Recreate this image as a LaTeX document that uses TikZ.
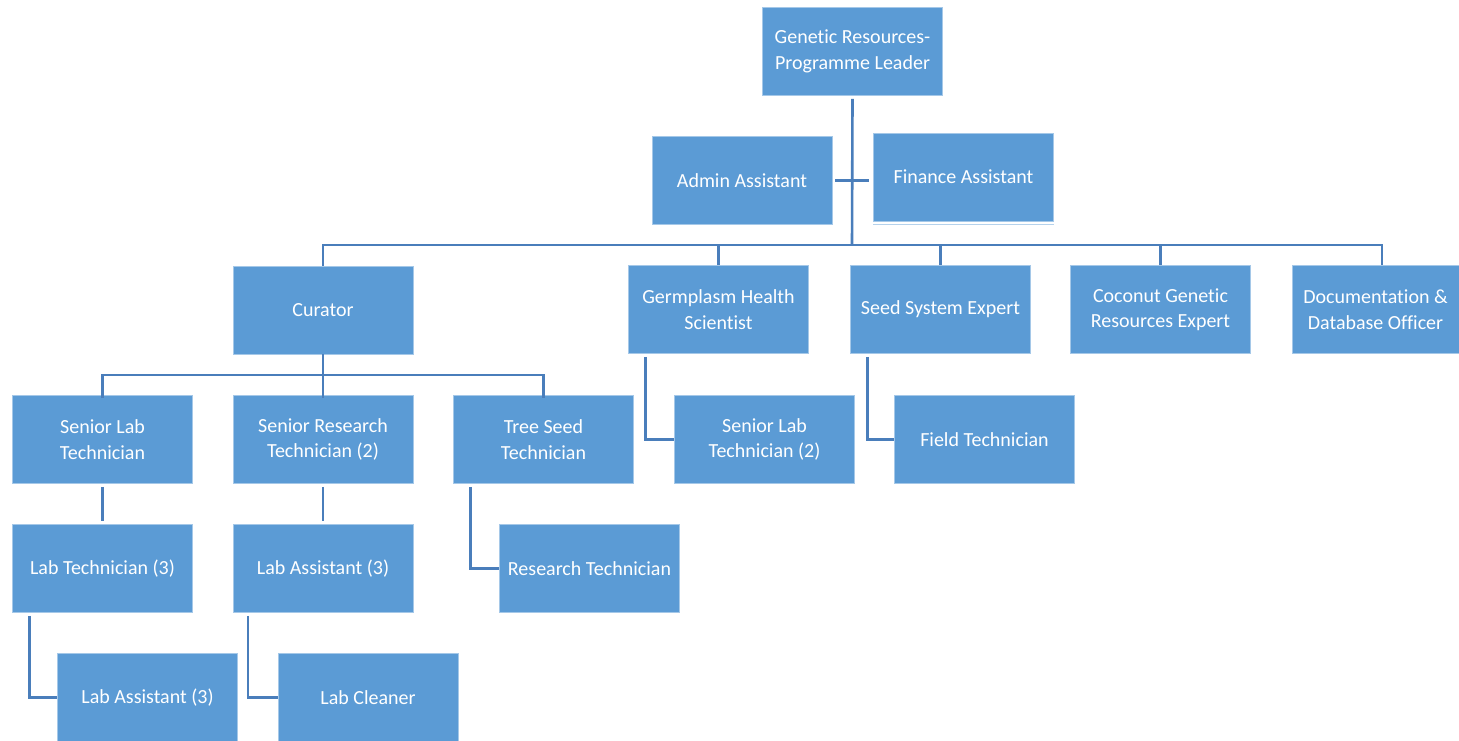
\documentclass[tikz,border=0pt]{standalone}
\usepackage{fontspec}
\setmainfont{Carlito}[Ligatures=NoCommon]
\definecolor{boxblue}{RGB}{91,155,213}
\definecolor{lineblue}{RGB}{74,126,187}

\begin{document}
\begin{tikzpicture}[x=1pt, y=-1pt,
    post/.style={fill=boxblue, draw=boxblue!55!white, line width=0.6pt, text=white,
      minimum width=180pt, minimum height=88pt, inner sep=0pt, align=center,
      font=\fontsize{20}{25.5}\selectfont},
    link/.style={draw=lineblue, line width=2.6pt}]
  \useasboundingbox (0,0) rectangle (1459,741);
  % top of the chart
  \node (leader) [post] at (852.5, 51.5) {Genetic Resources-\\Programme Leader};
  \node (admin) [post] at (742, 180.5) {Admin Assistant};
  \node (finance) [post] at (963.5, 177) {Finance Assistant};
  \draw [boxblue!45!white, line width=1.2pt] ([yshift=-3pt]finance.south west) -- ([yshift=-3pt]finance.south east);
  % first row under the leader
  \node (curator) [post] at (323, 310) {Curator};
  \node (germ) [post] at (718.5, 309.5) {Germplasm Health\\Scientist};
  \node (seedsys) [post] at (940.5, 309.5) {Seed System Expert};
  \node (coconut) [post] at (1160.5, 309.5) {Coconut Genetic\\Resources Expert};
  \node (doc) [post, minimum width=167pt] at (1375.5, 309.5) {Documentation \&\\Database Officer};
  % second row
  \node (sltech) [post] at (102.5, 439.5) {Senior Lab\\Technician};
  \node (srtech) [post] at (323, 439.5) {Senior Research\\Technician (2)};
  \node (treeseed) [post] at (543.5, 439.5) {Tree Seed\\Technician};
  \node (sltechtwo) [post] at (764.5, 439.5) {Senior Lab\\Technician (2)};
  \node (fieldtech) [post] at (984.5, 439.5) {Field Technician};
  % third row
  \node (labtech) [post] at (102.5, 568.5) {Lab Technician (3)};
  \node (labasst) [post] at (323, 568.5) {Lab Assistant (3)};
  \node (restech) [post] at (589.5, 568.5) {Research Technician};
  % fourth row
  \node (labassttwo) [post] at (147.5, 697.5) {Lab Assistant (3)};
  \node (cleaner) [post] at (368, 697.5) {Lab Cleaner};
  % connectors
  \coordinate (bus) at (852, 245);
  \coordinate (curbus) at (323, 375);
  \draw [link] ([yshift=-3pt]leader.south) -- (bus);
  \draw [link] ([xshift=3pt]admin.east) -- ([xshift=-4pt]admin.east -| finance.west);
  \draw [link] (curator.north) |- (bus) -| ([xshift=6.5pt]doc.north);
  \foreach \n in {germ, seedsys, coconut}
    \draw [link] (\n.north) -- (\n.north |- bus);
  \draw [link] (curator.south) -- (curbus);
  \draw [link] ([yshift=-3pt]sltech.north) |- (curbus) -| ([yshift=-3pt]treeseed.north);
  \draw [link] ([yshift=-3pt]srtech.north) -- (curbus);
  \draw [link] ([yshift=-3pt]sltech.south) -- ([yshift=3pt]labtech.north);
  \draw [link] ([yshift=-3pt]srtech.south) -- ([yshift=3pt]labasst.north);
  \draw [link] ([xshift=-73pt, yshift=-3pt]germ.south) |- (sltechtwo.west);
  \draw [link] ([xshift=-73pt, yshift=-3pt]seedsys.south) |- (fieldtech.west);
  \draw [link] ([xshift=-73pt, yshift=-3pt]treeseed.south) |- (restech.west);
  \draw [link] ([xshift=-73pt, yshift=-3pt]labtech.south) |- (labassttwo.west);
  \draw [link] ([xshift=-75pt, yshift=-3pt]labasst.south) |- (cleaner.west);
\end{tikzpicture}
\end{document}
